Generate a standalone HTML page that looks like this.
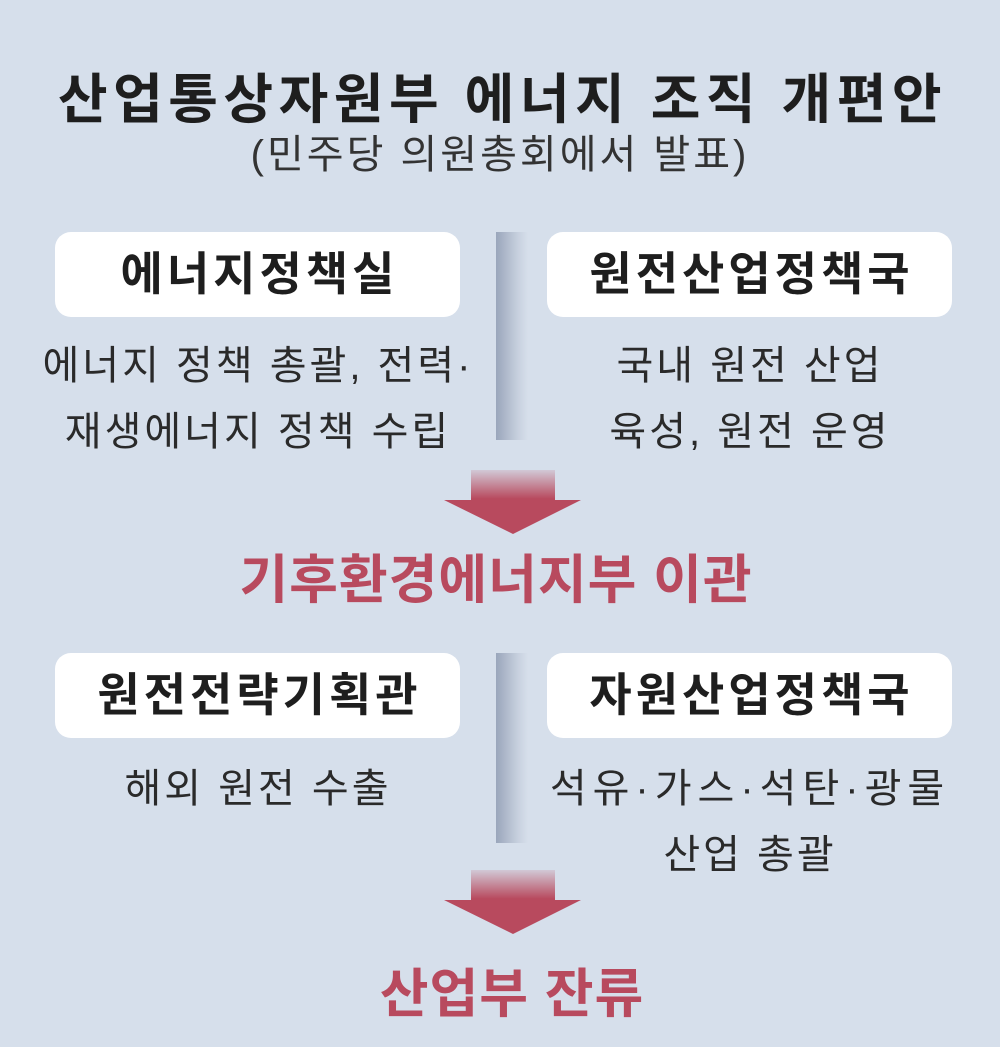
<!DOCTYPE html>
<html><head><meta charset="utf-8"><style>
body{margin:0;width:1000px;height:1047px;background:#d6dfeb;position:relative;overflow:hidden;font-family:"Liberation Sans","Noto Sans CJK KR",sans-serif;color:#222}
.t{position:absolute;left:0;width:1000px;text-align:center;white-space:nowrap}
.box{position:absolute;background:#fff;border-radius:16px;height:85px;width:405px;text-align:center;line-height:85px;font-size:46px;font-weight:bold;color:#1e1e1e;letter-spacing:4px;text-indent:4px}
.bar{position:absolute;left:496px;width:32px;background:linear-gradient(90deg,#9aa6bb,#c8d1df 70%,#d6dfeb)}
.txt{position:absolute;width:460px;text-align:center;font-size:40px;line-height:66px;color:#2a2a2a;letter-spacing:3px;white-space:nowrap}
.red{color:#b84a5e;font-weight:bold;font-size:53px;letter-spacing:1px}
</style></head><body>
<div class="t" style="top:55px;font-size:54px;font-weight:bold;color:#1e1e1e;letter-spacing:5.5px;text-indent:5px">산업통상자원부 에너지 조직 개편안</div>
<div class="t" style="top:122px;font-size:40px;color:#333;letter-spacing:3px">(민주당 의원총회에서 발표)</div>

<div class="box" style="left:55px;top:232px">에너지정책실</div>
<div class="box" style="left:547px;top:232px">원전산업정책국</div>
<div class="bar" style="top:232px;height:208px"></div>
<div class="txt" style="left:28px;top:333px">에너지 정책 총괄, 전력·<br>재생에너지 정책 수립</div>
<div class="txt" style="left:520px;top:333px">국내 원전 산업<br>육성, 원전 운영</div>

<svg style="position:absolute;left:440px;top:465px" width="145" height="72"><defs><linearGradient id="g" x1="0" y1="0" x2="0" y2="1"><stop offset="0" stop-color="#b84a5e" stop-opacity="0.15"/><stop offset="0.45" stop-color="#b84a5e"/><stop offset="1" stop-color="#b84a5e"/></linearGradient></defs><polygon points="31,5 115,5 115,35 141,35 73,69 4,35 31,35" fill="url(#g)"/></svg>
<div class="t red" style="top:538px;left:-4px">기후환경에너지부 이관</div>

<div class="box" style="left:55px;top:653px">원전전략기획관</div>
<div class="box" style="left:547px;top:653px">자원산업정책국</div>
<div class="bar" style="top:653px;height:190px"></div>
<div class="txt" style="left:28px;top:756px">해외 원전 수출</div>
<div class="txt" style="left:520px;top:756px"><span style="letter-spacing:6px">석유·가스·석탄·광물</span><br>산업 총괄</div>

<svg style="position:absolute;left:440px;top:865px" width="145" height="72"><polygon points="31,5 115,5 115,35 141,35 73,69 4,35 31,35" fill="url(#g)"/></svg>
<div class="t red" style="top:952px;left:12px">산업부 잔류</div>
</body></html>
